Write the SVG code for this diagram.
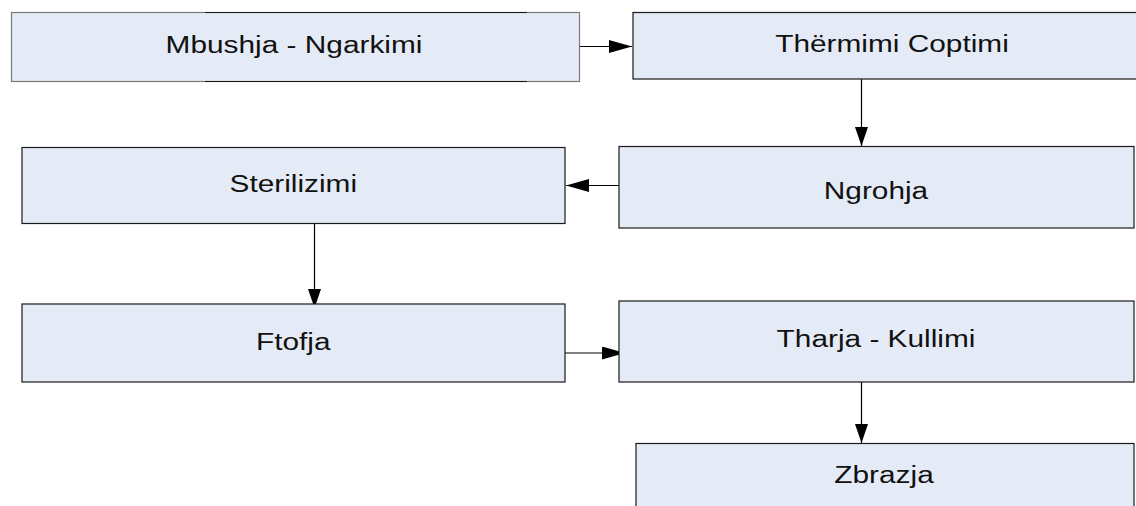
<svg xmlns="http://www.w3.org/2000/svg" width="1136" height="506" viewBox="0 0 1136 506">
<style>
.box{fill:#e5ebf6;stroke:#1a1a1a;stroke-width:1.2}
.box1{fill:#e5ebf6;stroke:#7a7a7a;stroke-width:1.2}
.seg{stroke:#1a1a1a;stroke-width:1.2}
.lbl{font-family:"Liberation Sans",Arial,sans-serif;font-size:23.3px;fill:#111;text-anchor:middle}
.con{stroke:#000;stroke-width:1.2;fill:none}
</style>
<defs>
<marker id="ah" viewBox="0 0 23 13" refX="23" refY="6.5" markerWidth="23" markerHeight="13" markerUnits="userSpaceOnUse" orient="auto">
<path d="M0,0 L23,6.5 L0,13 z" fill="#000"/>
</marker>
<marker id="av" viewBox="0 0 19 13" refX="19" refY="6.5" markerWidth="19" markerHeight="13" markerUnits="userSpaceOnUse" orient="auto">
<path d="M0,0 L19,6.5 L0,13 z" fill="#000"/>
</marker>
</defs>
<rect width="1136" height="506" fill="#fff"/>
<g id="connectors">
<line class="con" x1="580" y1="46.5" x2="632" y2="46.5" marker-end="url(#ah)"/>
<line class="con" x1="861.5" y1="79" x2="861.5" y2="146" marker-end="url(#av)"/>
<line class="con" x1="619" y1="185.5" x2="566" y2="185.5" marker-end="url(#ah)"/>
<line class="con" x1="314.5" y1="223.5" x2="314.5" y2="308" marker-end="url(#av)"/>
<line class="con" x1="565" y1="353" x2="625" y2="353" marker-end="url(#ah)"/>
<line class="con" x1="861.5" y1="382" x2="861.5" y2="443" marker-end="url(#av)"/>
</g>
<g id="n1">
<rect class="box1" x="11.5" y="12.5" width="568" height="69"/>
<line class="seg" x1="205" y1="12.5" x2="527" y2="12.5"/>
<line class="seg" x1="205" y1="81.5" x2="527" y2="81.5"/>
<text class="lbl" transform="translate(294 53.3) scale(1.28 1)">Mbushja - Ngarkimi</text>
</g>
<g id="n2">
<rect class="box" x="633" y="12.5" width="520" height="66.5"/>
<text class="lbl" transform="translate(892 52.3) scale(1.28 1)">Thërmimi Coptimi</text>
</g>
<g id="n3">
<rect class="box" x="619" y="146.5" width="515" height="81.5"/>
<text class="lbl" transform="translate(876 199.3) scale(1.28 1)">Ngrohja</text>
</g>
<g id="n4">
<rect class="box" x="22" y="147.5" width="543" height="76"/>
<text class="lbl" transform="translate(293.3 192.3) scale(1.28 1)">Sterilizimi</text>
</g>
<g id="n5">
<rect class="box" x="22" y="304" width="543" height="78"/>
<text class="lbl" transform="translate(293.3 350) scale(1.28 1)">Ftofja</text>
</g>
<g id="n6">
<rect class="box" x="619" y="301" width="515" height="81"/>
<text class="lbl" transform="translate(876 347.3) scale(1.28 1)">Tharja - Kullimi</text>
</g>
<g id="n7">
<rect class="box" x="636" y="443.5" width="498" height="80"/>
<text class="lbl" transform="translate(884 483.3) scale(1.28 1)">Zbrazja</text>
</g>
</svg>
